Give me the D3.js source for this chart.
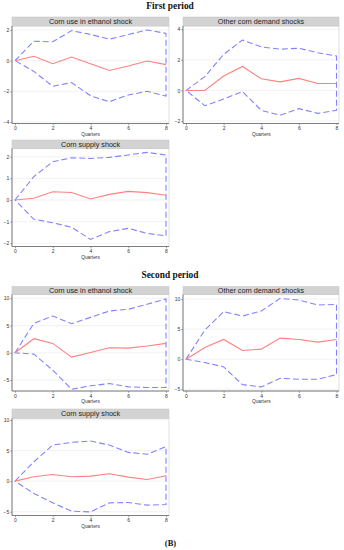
<!DOCTYPE html>
<html><head><meta charset="utf-8">
<script src="https://cdn.jsdelivr.net/npm/d3@7"></script>
<style>body{margin:0;background:#fff}svg{display:block}</style>
</head><body>
<svg id="c" width="344" height="550"></svg>
<script>
// ---- data ----
const quarters = [0,1,2,3,4,5,6,7,8];
const xTicks = [0,2,4,6,8];
const periodTitles = ["First period", "Second period"];
const panelTitles = ["Corn use in ethanol shock", "Other corn demand shocks", "Corn supply shock",
                     "Corn use in ethanol shock", "Other corn demand shocks", "Corn supply shock"];
const figureLabel = "(B)";
const xAxisTitle = "Quarters";

const p1Irf   = [0, 0.29, -0.20, 0.24, -0.20, -0.64, -0.35, -0.02, -0.26];
const p1Upper = [0, 1.27, 1.23, 1.96, 1.71, 1.40, 1.71, 2.00, 1.78];
const p1Lower = [0, -0.70, -1.67, -1.43, -2.29, -2.68, -2.24, -2.00, -2.31];
const p1Ticks = [-4, -2, 0, 2];

const p2Irf   = [0, 0.00, 0.94, 1.57, 0.76, 0.56, 0.79, 0.45, 0.45];
const p2Upper = [0, 0.90, 2.36, 3.30, 2.85, 2.70, 2.76, 2.47, 2.25];
const p2Lower = [0, -1.00, -0.56, -0.07, -1.30, -1.62, -1.19, -1.50, -1.30];
const p2Ticks = [-2, 0, 2, 4];

const p3Irf   = [0, 0.08, 0.38, 0.35, 0.05, 0.26, 0.40, 0.34, 0.22];
const p3Upper = [0, 1.08, 1.77, 1.95, 1.92, 1.97, 2.08, 2.20, 2.08];
const p3Lower = [0, -0.89, -1.05, -1.26, -1.82, -1.46, -1.31, -1.54, -1.66];
const p3Ticks = [-2, -1, 0, 1, 2];

const p4Irf   = [0, 2.58, 1.72, -0.80, 0.05, 0.92, 0.86, 1.23, 1.72];
const p4Upper = [0, 5.40, 6.75, 5.34, 6.50, 7.67, 7.98, 8.90, 9.88];
const p4Lower = [0, -0.25, -3.20, -6.70, -6.07, -5.64, -6.26, -6.38, -6.38];
const p4Ticks = [-5, 0, 5, 10];

const p5Irf   = [0, 1.94, 3.28, 1.44, 1.67, 3.50, 3.28, 2.83, 3.28];
const p5Upper = [0, 4.83, 7.90, 7.17, 8.00, 10.10, 9.83, 9.00, 9.10];
const p5Lower = [0, -0.56, -1.28, -4.22, -4.60, -3.17, -3.33, -3.33, -2.56];
const p5Ticks = [-5, 0, 5, 10];

const p6Irf   = [0, 0.71, 1.09, 0.71, 0.82, 1.20, 0.66, 0.27, 0.87];
const p6Upper = [0, 3.17, 5.90, 6.34, 6.56, 5.90, 4.70, 4.40, 5.63];
const p6Lower = [0, -2.02, -3.55, -4.92, -5.03, -3.55, -3.50, -3.93, -3.83];
const p6Ticks = [-5, 0, 5, 10];

// ---- layout (positions only) ----
const cols = [
  {left: 12, right: 169, x0: 15, x8: 166},
  {left: 183, right: 339, x0: 186, x8: 336.5}
];
const panels = [
  {col:0, hTop:17,    hBot:26,    axis:123.5, yLo:[-4,122],   yHi:[2,30],     irf:p1Irf, up:p1Upper, lo:p1Lower, ticks:p1Ticks},
  {col:1, hTop:17,    hBot:26,    axis:123.5, yLo:[-2,121],   yHi:[4,29.3],   irf:p2Irf, up:p2Upper, lo:p2Lower, ticks:p2Ticks},
  {col:0, hTop:140,   hBot:148.5, axis:246.5, yLo:[-2,243.3], yHi:[2,156.7],  irf:p3Irf, up:p3Upper, lo:p3Lower, ticks:p3Ticks},
  {col:0, hTop:286.5, hBot:294.5, axis:391,   yLo:[-5,380],   yHi:[10,298.3], irf:p4Irf, up:p4Upper, lo:p4Lower, ticks:p4Ticks},
  {col:1, hTop:286.5, hBot:294.5, axis:391,   yLo:[-5,389.3], yHi:[10,299],   irf:p5Irf, up:p5Upper, lo:p5Lower, ticks:p5Ticks},
  {col:0, hTop:409,   hBot:418.3, axis:515.5, yLo:[-5,511.7], yHi:[10,420],   irf:p6Irf, up:p6Upper, lo:p6Lower, ticks:p6Ticks}
];
const titleY = [8.5, 277.5];

const svg = d3.select("#c");
const sans = "Liberation Sans, Arial, sans-serif";
const serif = "Liberation Serif, Times New Roman, serif";

periodTitles.forEach((t,i) => {
  svg.append("text").attr("x",170).attr("y",titleY[i]).attr("text-anchor","middle")
    .attr("font-family",serif).attr("font-weight","bold").attr("font-size",9.4).attr("fill","#111").text(t);
});
svg.append("text").attr("x",170.5).attr("y",546).attr("text-anchor","middle")
  .attr("font-family",serif).attr("font-weight","bold").attr("font-size",8.5).attr("fill","#111").text(figureLabel);

panels.forEach((p,i) => {
  const c = cols[p.col];
  const g = svg.append("g");
  const x = d3.scaleLinear().domain([0,8]).range([c.x0, c.x8]);
  const y = d3.scaleLinear().domain([p.yLo[0], p.yHi[0]]).range([p.yLo[1], p.yHi[1]]);

  // plot region
  g.append("rect").attr("x",c.left).attr("y",p.hBot).attr("width",c.right-c.left).attr("height",p.axis-p.hBot)
    .attr("fill","#fff").attr("stroke","#d8d8d8").attr("stroke-width",0.8);
  // header
  g.append("rect").attr("x",c.left).attr("y",p.hTop).attr("width",c.right-c.left).attr("height",p.hBot-p.hTop)
    .attr("fill","#d3d3d3").attr("stroke","#c4c4c4").attr("stroke-width",0.5);
  g.append("text").attr("x",(c.left+c.right)/2).attr("y",(p.hTop+p.hBot)/2+2.6).attr("text-anchor","middle")
    .attr("font-family",sans).attr("font-size",7.2).attr("fill","#222").text(panelTitles[i]);

  // gridlines
  g.selectAll(".grid").data(p.ticks).join("line")
    .attr("x1",c.left).attr("x2",c.right).attr("y1",d=>y(d)).attr("y2",d=>y(d))
    .attr("stroke","#ececec").attr("stroke-width",0.7);

  // y axis
  const ya = d3.axisLeft(y).tickValues(p.ticks).tickSize(1.8).tickPadding(1).tickFormat(d3.format("d"));
  const yg = g.append("g").attr("transform",`translate(${c.left},0)`).call(ya);
  yg.select(".domain").remove();
  g.append("line").attr("x1",c.left).attr("x2",c.left).attr("y1",p.hBot).attr("y2",p.axis)
    .attr("stroke","#666").attr("stroke-width",0.8);
  // x axis
  const xa = d3.axisBottom(x).tickValues(xTicks).tickSize(1.8).tickPadding(1.5).tickFormat(d3.format("d"));
  const xg = g.append("g").attr("transform",`translate(0,${p.axis})`).call(xa);
  xg.select(".domain").remove();
  g.append("line").attr("x1",c.left).attr("x2",c.right).attr("y1",p.axis).attr("y2",p.axis)
    .attr("stroke","#666").attr("stroke-width",0.8);
  [yg,xg].forEach(a => {
    a.selectAll("line").attr("stroke","#666").attr("stroke-width",0.6);
    a.selectAll("text").attr("font-family",sans).attr("font-size",5).attr("fill","#333");
  });
  g.append("text").attr("x",(c.x0+c.x8)/2).attr("y",p.axis+12.3).attr("text-anchor","middle")
    .attr("font-family",sans).attr("font-size",4.8).attr("fill","#333").text(xAxisTitle);

  // confidence band outline (closed)
  const band = quarters.map((q,k)=>[x(q), y(p.up[k])])
    .concat(quarters.slice().reverse().map(q=>[x(q), y(p.lo[q])]));
  g.append("path").attr("d", d3.line()(band) + "Z")
    .attr("fill","none").attr("stroke","#8282ff").attr("stroke-width",1.1).attr("stroke-dasharray","6,3");
  // IRF
  g.append("path").attr("d", d3.line().x((q)=>x(q)).y((q,k)=>y(p.irf[k]))(quarters))
    .attr("fill","none").attr("stroke","#ff8080").attr("stroke-width",1.1);
});
</script>
</body></html>
